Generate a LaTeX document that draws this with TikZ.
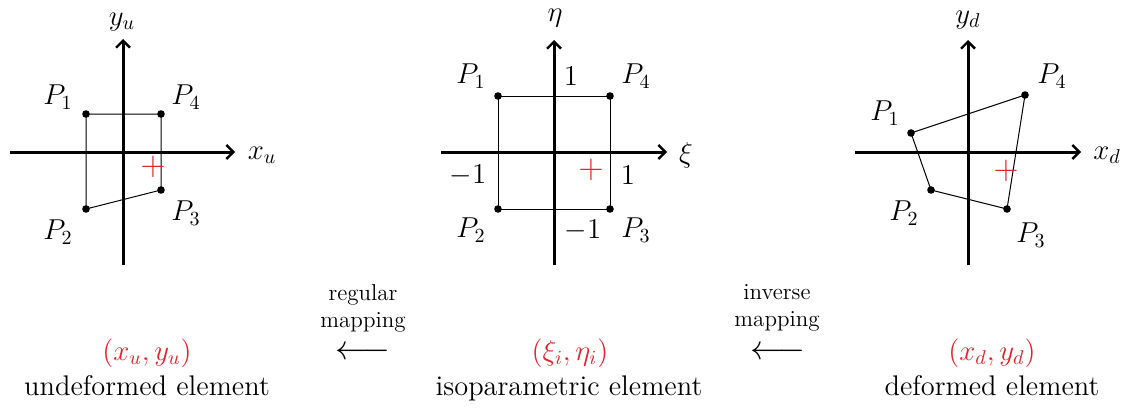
\documentclass[tikz,border=0pt]{standalone}
\usepackage{fontspec}
\usetikzlibrary{arrows.meta}
\definecolor{myred}{RGB}{232,32,40}
\begin{document}
\begin{tikzpicture}[x=0.5pt,y=-0.5pt,
  axis/.style={line width=1.5pt,-{Straight Barb[length=3.5pt,width=7pt,line width=1.2pt]}},
  edge/.style={line width=0.5pt},
  dot/.style={circle,fill=black,inner sep=0pt,minimum size=3.8pt},
  lbl/.style={font=\fontsize{14.2}{16}\selectfont,inner sep=0pt},
  redlbl/.style={lbl,text=myred},
  plus/.style={font=\fontsize{17.28}{18}\selectfont,inner sep=0pt,text=myred},
  small/.style={font=\fontsize{11.5}{13.5}\selectfont,align=center,inner sep=0pt},
  arr/.style={font=\fontsize{17.28}{18}\selectfont,inner sep=0pt}]
\useasboundingbox (0,0) rectangle (1123,407);

% ---------- undeformed ----------
\coordinate (uL) at (10,152); \coordinate (uR) at (235,152);
\coordinate (uB) at (123,265); \coordinate (uT) at (123,39);
\draw[axis] (uL) -- (uR);
\draw[axis] (uB) -- (uT);
\node[lbl] (uxl) at (262,155) {$x_u$};
\node[lbl] (uyl) at (122,22) {$y_u$};
\node[dot] (u1) at (86,114) {};
\node[dot] (u4) at (161,114) {};
\node[dot] (u3) at (161,190) {};
\node[dot] (u2) at (86,209) {};
\draw[edge] (u1.center) -- (u4.center) -- (u3.center) -- (u2.center) -- cycle;
\node[lbl] (uP1) at (58,97) {$P_1$};
\node[lbl] (uP4) at (186,97) {$P_4$};
\node[lbl] (uP2) at (58,232) {$P_2$};
\node[lbl] (uP3) at (186,213) {$P_3$};
\node[plus] (uc) at (153,167) {$+$};

% ---------- isoparametric ----------
\coordinate (iL) at (441,152); \coordinate (iR) at (667,152);
\coordinate (iB) at (554,265); \coordinate (iT) at (554,40);
\draw[axis] (iL) -- (iR);
\draw[axis] (iB) -- (iT);
\node[lbl] (ixl) at (686,155) {$\xi$};
\node[lbl] (iyl) at (555,18) {$\eta$};
\node[dot] (i1) at (498,96) {};
\node[dot] (i4) at (610,96) {};
\node[dot] (i3) at (610,209) {};
\node[dot] (i2) at (498,209) {};
\draw[edge] (i1.center) -- (i4.center) -- (i3.center) -- (i2.center) -- cycle;
\node[lbl] (iP1) at (471,76) {$P_1$};
\node[lbl] (iP4) at (636,76) {$P_4$};
\node[lbl] (iP2) at (471,230) {$P_2$};
\node[lbl] (iP3) at (636,230) {$P_3$};
\node[lbl] (itop) at (571,76) {$1$};
\node[lbl] (ibot) at (583,230) {$-1$};
\node[lbl] (ileft) at (468,175) {$-1$};
\node[lbl] (iright) at (628,175) {$1$};
\node[plus] (ic) at (591,170) {$+$};

% ---------- deformed ----------
\coordinate (dL) at (855,152); \coordinate (dR) at (1081,152);
\coordinate (dB) at (968,265); \coordinate (dT) at (968,40);
\draw[axis] (dL) -- (dR);
\draw[axis] (dB) -- (dT);
\node[lbl] (dxl) at (1107,155) {$x_d$};
\node[lbl] (dyl) at (968,20) {$y_d$};
\node[dot] (d1) at (911,133) {};
\node[dot] (d4) at (1025,95) {};
\node[dot] (d3) at (1007,209) {};
\node[dot] (d2) at (931,190) {};
\draw[edge] (d1.center) -- (d4.center) -- (d3.center) -- (d2.center) -- cycle;
\node[lbl] (dP1) at (885,113) {$P_1$};
\node[lbl] (dP4) at (1052,76) {$P_4$};
\node[lbl] (dP2) at (904,213) {$P_2$};
\node[lbl] (dP3) at (1031,235) {$P_3$};
\node[plus] (dc) at (1006,171) {$+$};

% ---------- captions ----------
\node[redlbl] (ucoord) at (147,353) {$(x_u,y_u)$};
\node[lbl,anchor=base] (uname) at (147,395) {undeformed element};
\node[redlbl] (icoord) at (570,353) {$(\xi_i,\eta_i)$};
\node[lbl,anchor=base] (iname) at (569,395) {isoparametric element};
\node[redlbl] (dcoord) at (992,353) {$(x_d,y_d)$};
\node[lbl,anchor=base] (dname) at (992,395) {deformed element};

\node[small] (reg) at (363,308) {regular\\mapping};
\node[arr] (regarr) at (363,353) {$\longleftarrow$};
\node[small] (inv) at (777,308) {inverse\\mapping};
\node[arr] (invarr) at (778,353) {$\longleftarrow$};
\end{tikzpicture}
\end{document}
